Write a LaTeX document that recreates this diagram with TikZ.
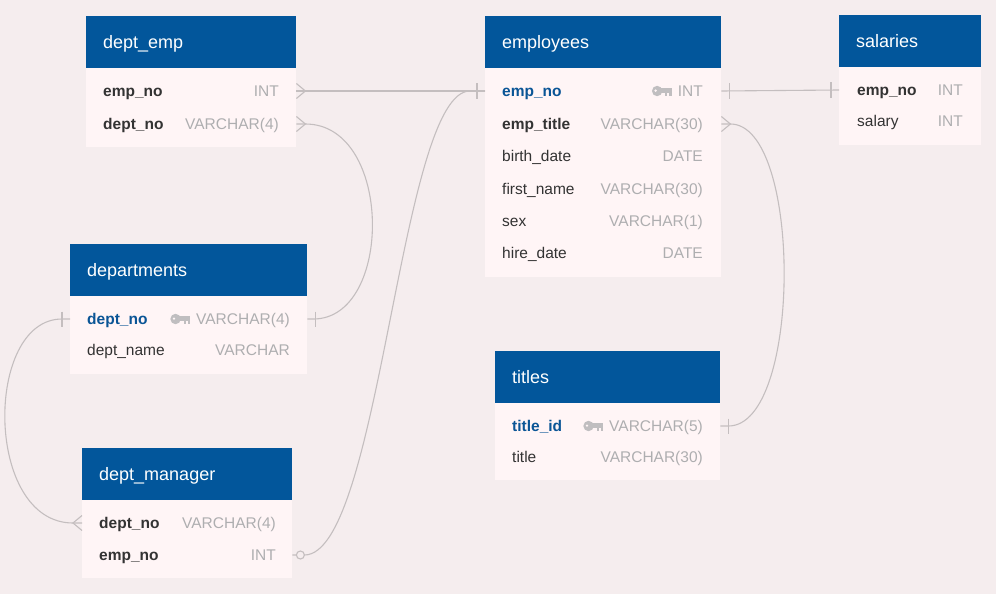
\documentclass[tikz,border=0pt]{standalone}
\usepackage{fontspec}
\setmainfont{Liberation Sans}
\usetikzlibrary{calc}

\definecolor{canvas}{HTML}{F5EDEE}
\definecolor{bodyfill}{HTML}{FFF5F6}
\definecolor{hdblue}{HTML}{02569B}
\definecolor{keyblue}{HTML}{0A5596}
\definecolor{namegrey}{HTML}{333333}
\definecolor{typegrey}{HTML}{AEAEB0}
\definecolor{linegrey}{HTML}{C4BEBF}
\definecolor{keygrey}{HTML}{C0BEC0}

\tikzset{
    head/.style={fill=hdblue, text=white, anchor=north west, minimum height=52pt,
        inner xsep=17pt, inner ysep=0pt, align=left, text height=13pt, text depth=0pt,
        font=\fontsize{18}{22}\selectfont},
    tbody/.style={fill=bodyfill, anchor=north west, inner sep=0pt},
    fld/.style={anchor=west, inner sep=0pt, text height=11pt, text depth=0pt,
        text=namegrey, font=\fontsize{15.5}{18}\selectfont},
    fldb/.style={fld, font=\fontsize{15.5}{18}\selectfont\bfseries},
    fldk/.style={fldb, text=keyblue},
    typ/.style={fld, anchor=east, text=typegrey},
    conn/.style={draw=linegrey, line width=1.1pt},
    % relationship ends, drawn to the right of a table edge
    crow/.pic={\draw[conn] (0,-7.5) -- (9,0) -- (0,7.5);},
    onebar/.pic={\draw[conn] (8,-7.5) -- (8,7.5);},
    ring/.pic={\draw[conn, fill=canvas] (8,0) circle (4);},
    keyic/.pic={
        \fill[keygrey] (-20.5,0) circle (5.2);
        \fill[keygrey] (-17,-2.8) rectangle (-6,1.6);
        \fill[keygrey] (-12.5,1.6) rectangle (-10.2,4.6);
        \fill[keygrey] (-8.3,1.6) rectangle (-6,4.6);
        \fill[bodyfill] (-22,-0.4) circle (1.3);
    }
}

\begin{document}
\begin{tikzpicture}[x=1pt, y=-1pt]

    % canvas
    \fill[canvas] (0,0) rectangle (996,594);
    \useasboundingbox (0,0) rectangle (996,594);

    % dept_emp
    \node[head, text width=176pt] (de-h) at (86,16) {dept\_emp};
    \node[tbody, minimum width=210pt, minimum height=79pt] (de) at (86,68) {};
    \node[fldb] (de-empno) at (103,91) {emp\_no};
    \node[typ] (de-empno-t) at (279,91) {INT};
    \node[fldb] (de-deptno) at (103,124) {dept\_no};
    \node[typ] (de-deptno-t) at (279,124) {VARCHAR(4)};

    % employees
    \node[head, text width=202pt] (emp-h) at (485,16) {employees};
    \node[tbody, minimum width=236pt, minimum height=209pt] (emp) at (485,68) {};
    \node[fldk] (emp-empno) at (502,91) {emp\_no};
    \node[typ] (emp-empno-t) at (703,91) {INT};
    \pic at (emp-empno-t.west) {keyic};
    \node[fldb] (emp-title) at (502,124) {emp\_title};
    \node[typ] (emp-title-t) at (703,124) {VARCHAR(30)};
    \node[fld] (emp-birth) at (502,156) {birth\_date};
    \node[typ] (emp-birth-t) at (703,156) {DATE};
    \node[fld] (emp-first) at (502,189) {first\_name};
    \node[typ] (emp-first-t) at (703,189) {VARCHAR(30)};
    \node[fld] (emp-sex) at (502,221) {sex};
    \node[typ] (emp-sex-t) at (703,221) {VARCHAR(1)};
    \node[fld] (emp-hire) at (502,253) {hire\_date};
    \node[typ] (emp-hire-t) at (703,253) {DATE};

    % salaries
    \node[head, text width=108pt] (sal-h) at (839,15) {salaries};
    \node[tbody, minimum width=142pt, minimum height=78pt] (sal) at (839,67) {};
    \node[fldb] (sal-empno) at (857,90) {emp\_no};
    \node[typ] (sal-empno-t) at (963,90) {INT};
    \node[fld] (sal-salary) at (857,121) {salary};
    \node[typ] (sal-salary-t) at (963,121) {INT};

    % departments
    \node[head, text width=203pt] (dp-h) at (70,244) {departments};
    \node[tbody, minimum width=237pt, minimum height=78pt] (dp) at (70,296) {};
    \node[fldk] (dp-deptno) at (87,319) {dept\_no};
    \node[typ] (dp-deptno-t) at (290,319) {VARCHAR(4)};
    \pic at (dp-deptno-t.west) {keyic};
    \node[fld] (dp-name) at (87,350) {dept\_name};
    \node[typ] (dp-name-t) at (290,350) {VARCHAR};

    % dept_manager
    \node[head, text width=176pt] (dm-h) at (82,448) {dept\_manager};
    \node[tbody, minimum width=210pt, minimum height=78pt] (dm) at (82,500) {};
    \node[fldb] (dm-deptno) at (99,523) {dept\_no};
    \node[typ] (dm-deptno-t) at (276,523) {VARCHAR(4)};
    \node[fldb] (dm-empno) at (99,555) {emp\_no};
    \node[typ] (dm-empno-t) at (276,555) {INT};

    % titles
    \node[head, text width=191pt] (ti-h) at (495,351) {titles};
    \node[tbody, minimum width=225pt, minimum height=77pt] (ti) at (495,403) {};
    \node[fldk] (ti-titleid) at (512,426) {title\_id};
    \node[typ] (ti-titleid-t) at (703,426) {VARCHAR(5)};
    \pic at (ti-titleid-t.west) {keyic};
    \node[fld] (ti-title) at (512,457) {title};
    \node[typ] (ti-title-t) at (703,457) {VARCHAR(30)};

    % relationships
    \draw[conn] (de.east |- de-empno) -- (emp.west |- emp-empno);
    \pic at (de.east |- de-empno) {crow};
    \pic[xscale=-1] at (emp.west |- emp-empno) {onebar};

    \draw[conn] (de.east |- de-deptno) -- ++(9,0)
        .. controls +(88,0) and +(80,0) .. ($(dp.east |- dp-deptno)+(6,0)$)
        -- (dp.east |- dp-deptno);
    \pic at (de.east |- de-deptno) {crow};
    \pic at (dp.east |- dp-deptno) {onebar};

    \draw[conn] (dm.east |- dm-empno) -- ++(12,0)
        .. controls +(76,0) and +(-70,0) .. ($(emp.west |- emp-empno)+(-15,0)$)
        -- (emp.west |- emp-empno);
    \pic at (dm.east |- dm-empno) {ring};

    \draw[conn] (emp.east |- emp-empno) -- (sal.west |- sal-empno);
    \pic at (emp.east |- emp-empno) {onebar};
    \pic[xscale=-1] at (sal.west |- sal-empno) {onebar};

    \draw[conn] (emp.east |- emp-title) -- ++(9,0)
        .. controls +(72,0) and +(74,0) .. ($(ti.east |- ti-titleid)+(8,0)$)
        -- (ti.east |- ti-titleid);
    \pic at (emp.east |- emp-title) {crow};
    \pic at (ti.east |- ti-titleid) {onebar};

    \draw[conn] (dp.west |- dp-deptno) -- ++(-8,0)
        .. controls +(-78,0) and +(-89,0) .. ($(dm.west |- dm-deptno)+(-9,0)$)
        -- (dm.west |- dm-deptno);
    \pic[xscale=-1] at (dp.west |- dp-deptno) {onebar};
    \pic[xscale=-1] at (dm.west |- dm-deptno) {crow};
\end{tikzpicture}
\end{document}
